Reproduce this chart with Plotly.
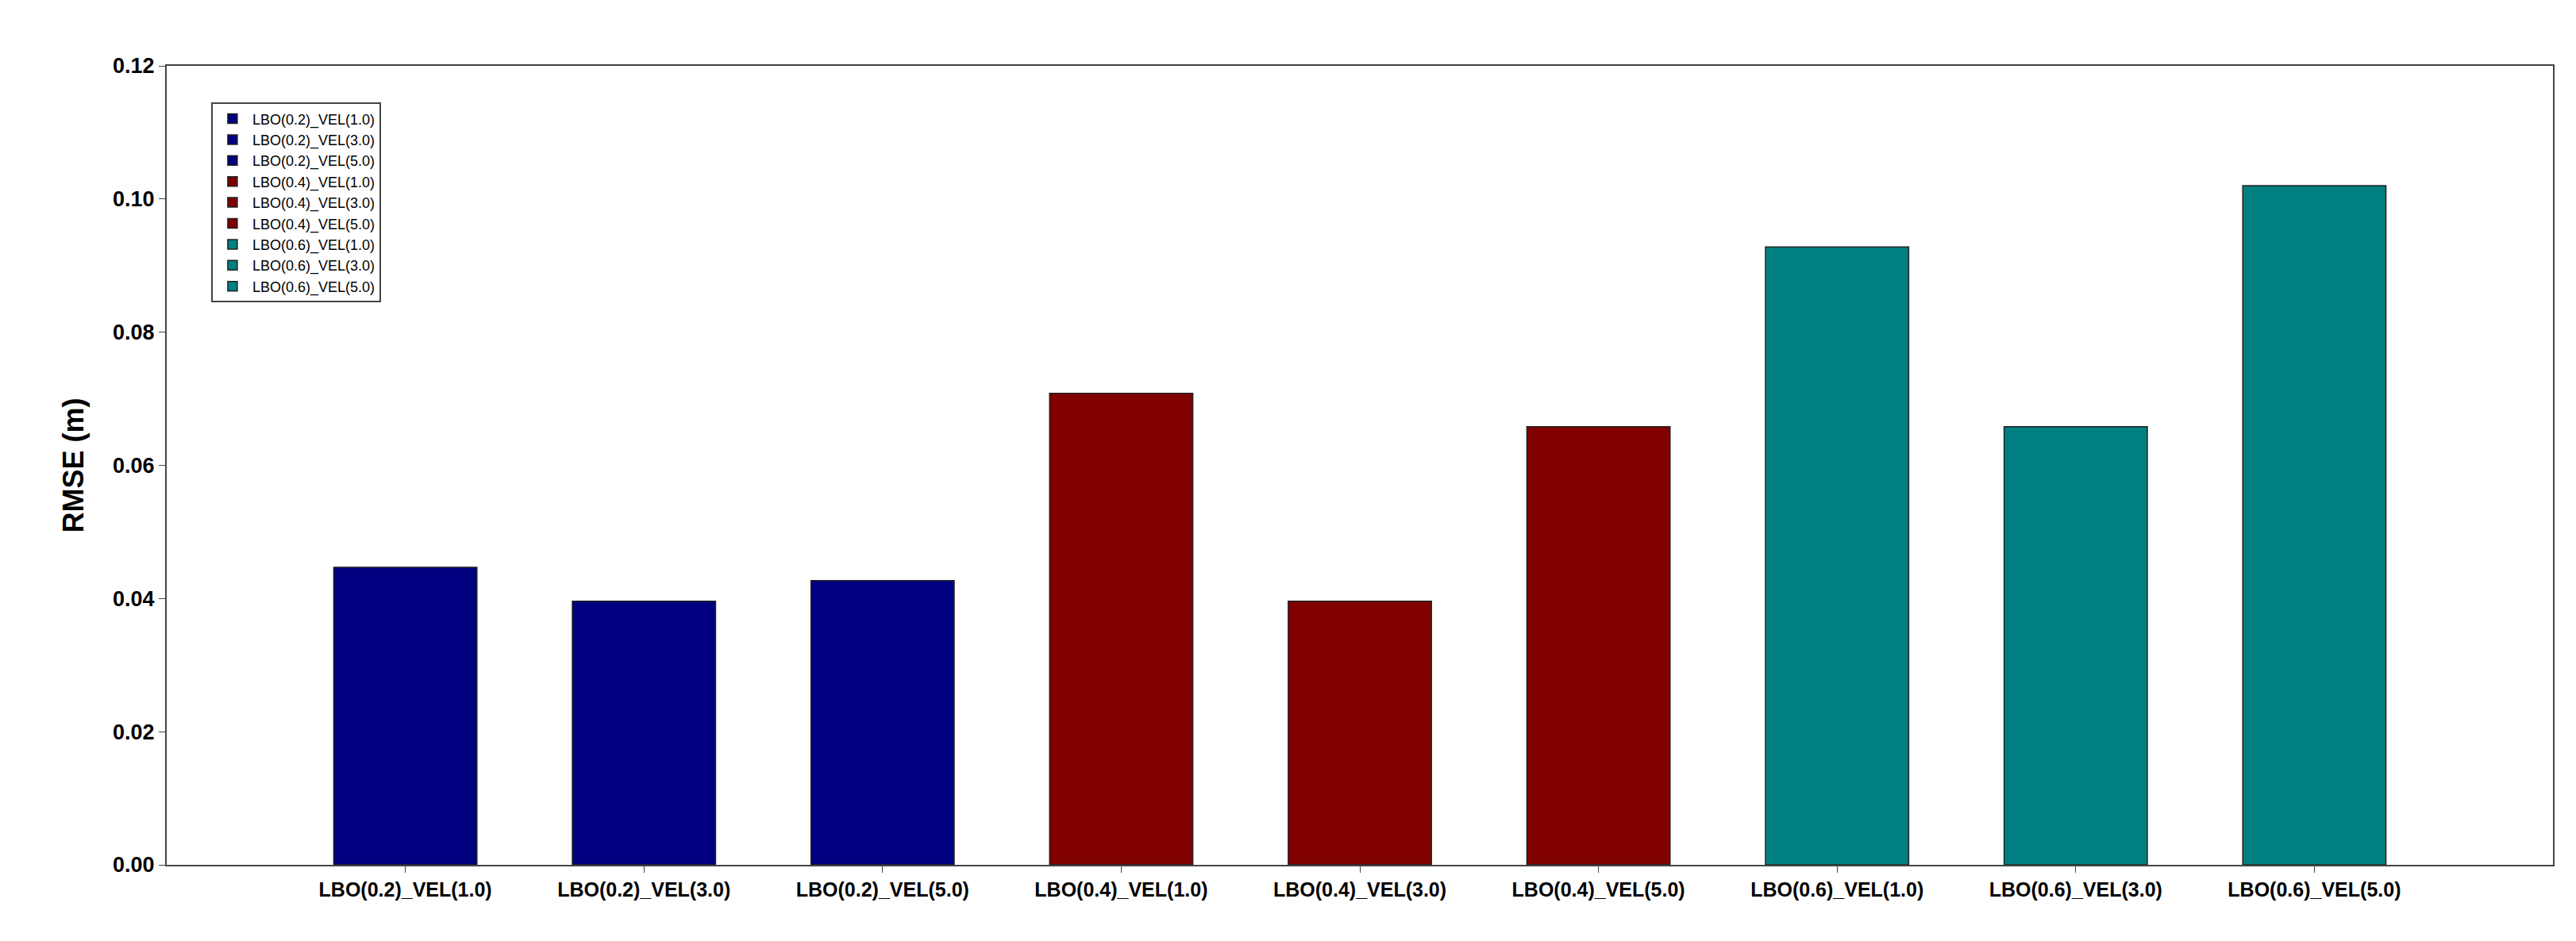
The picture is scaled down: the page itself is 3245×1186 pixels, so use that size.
import plotly.graph_objects as go

categories = ["LBO(0.2)_VEL(1.0)", "LBO(0.2)_VEL(3.0)", "LBO(0.2)_VEL(5.0)",
              "LBO(0.4)_VEL(1.0)", "LBO(0.4)_VEL(3.0)", "LBO(0.4)_VEL(5.0)",
              "LBO(0.6)_VEL(1.0)", "LBO(0.6)_VEL(3.0)", "LBO(0.6)_VEL(5.0)"]
rmse = [0.0447, 0.0396, 0.0427, 0.0708, 0.0396, 0.0658, 0.0928, 0.0658, 0.1020]
colors = ["#000080"] * 3 + ["#800000"] * 3 + ["#008080"] * 3
y_ticks = [0.00, 0.02, 0.04, 0.06, 0.08, 0.10, 0.12]

fig = go.Figure()
for i, (c, v, col) in enumerate(zip(categories, rmse, colors)):
    fig.add_trace(go.Bar(x=[i], y=[v], name=c, width=0.6,
                         marker=dict(color=col, line=dict(color="#222222", width=1.5))))

font = "Liberation Sans, Arial, sans-serif"
fig.update_layout(
    width=3245, height=1186, barmode="overlay",
    paper_bgcolor="white", plot_bgcolor="white",
    margin=dict(l=202, r=37, t=75, b=104),
    font=dict(family=font, color="black"),
    showlegend=True,
    legend=dict(x=0.0186, y=0.954, xanchor="left", yanchor="top",
                bgcolor="white", bordercolor="#444444", borderwidth=2,
                font=dict(size=18, family=font), traceorder="normal",
                tracegroupgap=0, itemwidth=40),
    xaxis=dict(range=[-1, 9], tickmode="array", tickvals=list(range(9)),
               ticktext=[f"<b>{c}</b>" for c in categories],
               tickfont=dict(size=25), showline=True, linecolor="#444444",
               linewidth=2, mirror=True, ticks="outside", ticklen=8,
               tickcolor="#444444", showgrid=False, zeroline=False),
    yaxis=dict(range=[0, 0.12], tickmode="array", tickvals=y_ticks,
               ticktext=[f"<b>{t:.2f}</b>" for t in y_ticks],
               tickfont=dict(size=27), showline=True, linecolor="#444444",
               linewidth=2, mirror=True, ticks="outside", ticklen=8,
               tickcolor="#444444", showgrid=False, zeroline=False,
               title=dict(text="<b>RMSE (m)</b>", font=dict(size=36), standoff=25)),
)
fig.write_html("out.html")
